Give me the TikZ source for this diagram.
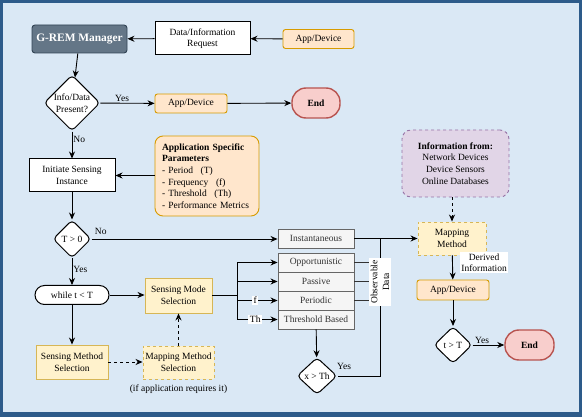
\documentclass[tikz,border=0pt]{standalone}
\usepackage{fontspec}
\setmainfont{Liberation Serif}
\usetikzlibrary{shapes.geometric,arrows.meta,positioning}
\definecolor{bgblue}{HTML}{DAE8F5}
\definecolor{frameblue}{HTML}{2D5B8A}
\definecolor{slate}{HTML}{647687}
\definecolor{slateb}{HTML}{314354}
\definecolor{orfill}{HTML}{FFE6CC}
\definecolor{ordraw}{HTML}{D79B00}
\definecolor{yefill}{HTML}{FFF2CC}
\definecolor{yedraw}{HTML}{D6B656}
\definecolor{rdfill}{HTML}{F8CECC}
\definecolor{rddraw}{HTML}{B85450}
\definecolor{pufill}{HTML}{E1D5E7}
\definecolor{pudraw}{HTML}{9673A6}
\definecolor{grfill}{HTML}{F5F5F5}
\definecolor{grdraw}{HTML}{666666}
\definecolor{grtext}{HTML}{333333}
\tikzset{
  base/.style={font=\fontsize{9.5}{11.6}\selectfont, align=center, inner sep=1pt, line width=0.9pt},
  appbox/.style={base, draw=ordraw, fill=orfill, rounded corners=2.5pt, minimum width=71pt, minimum height=19pt},
  plainbox/.style={base, draw=black, fill=white, line width=1pt},
  yebox/.style={base, draw=yedraw, fill=yefill},
  endbox/.style={base, draw=rddraw, fill=rdfill, rounded corners=14pt, line width=1.4pt, font=\fontsize{9.5}{11}\selectfont\bfseries, minimum width=48pt, minimum height=30pt},
  decide/.style={base, draw=black, fill=white, diamond, rounded corners=4pt, inner sep=0pt, line width=1pt},
  modebox/.style={base, draw=grdraw, fill=grfill, text=grtext, minimum width=76pt, minimum height=19pt},
  arr/.style={-{Stealth[length=7pt,width=6pt]}, line width=0.9pt},
  darr/.style={arr, dashed},
  lbl/.style={font=\fontsize{9.5}{11.6}\selectfont, inner sep=1pt},
  wlbl/.style={lbl, fill=white, align=center, inner sep=1.5pt},
}
\begin{document}
\begin{tikzpicture}[x=1pt,y=-1pt]
\useasboundingbox (0,0) rectangle (582,417);
\fill[frameblue] (0,0) rectangle (582,417);
\fill[bgblue] (3,3) rectangle (579,411.5);

% top row
\node[base, draw=slateb, fill=slate, text=white, rounded corners=3pt, minimum width=95pt, minimum height=28pt, font=\fontsize{11.4}{13}\selectfont\bfseries] (grem) at (79.5,39) {G-REM Manager};
\node[plainbox, minimum width=95pt, minimum height=33pt] (req) at (202.5,38.5) {Data/Information\\Request};
\node[appbox] (app1) at (318.5,39) {App/Device};

% info present diamond
\node[decide, minimum width=56pt, minimum height=56pt] (info) at (72,103) {Info/Data\\Present?};
\node[appbox, minimum width=72pt] (app2) at (191,103.5) {App/Device};
\node[endbox] (end1) at (316,103) {End};

% initiate
\node[plainbox, minimum width=86pt, minimum height=33pt] (init) at (72,175.5) {Initiate Sensing\\Instance};
\node[base, draw=ordraw, fill=orfill, rounded corners=8pt, minimum width=104pt, minimum height=80pt, align=left, text width=90pt] (params) at (207,176)
  {\textbf{Application Specific}\\\textbf{Parameters}\\- Period\hspace{0.8em}(T)\\- Frequency\hspace{0.8em}(f)\\- Threshold\hspace{0.8em}(Th)\\- Performance Metrics};

% T > 0
\node[decide, minimum width=38pt, minimum height=38pt] (tg0) at (72,239) {T {>} 0};

% while
\node[base, draw=black, fill=white, rounded corners=9.5pt, line width=1pt, minimum width=74pt, minimum height=19pt] (while) at (72,295) {while t {<} T};

% sensing mode
\node[yebox, minimum width=67pt, minimum height=35pt] (smode) at (178.5,295.5) {Sensing Mode\\Selection};
\node[yebox, minimum width=72pt, minimum height=34pt] (smeth) at (72,362) {Sensing Method\\Selection};
\node[yebox, dashed, minimum width=71pt, minimum height=33pt] (mmeth) at (178.5,362.5) {Mapping Method\\Selection};
\node[lbl] (ifapp) at (178.5,389) {(if application requires it)};

% mode boxes
\node[modebox] (inst) at (316,238.5) {Instantaneous};
\node[modebox] (opp) at (316,262.5) {Opportunistic};
\node[modebox] (pas) at (316,281.5) {Passive};
\node[modebox] (per) at (316,300.5) {Periodic};
\node[modebox] (thr) at (316,319.5) {Threshold Based};

% x > Th
\node[decide, minimum width=40pt, minimum height=37pt] (xth) at (317,376) {x {>} Th};

% right column
\node[base, draw=pudraw, fill=pufill, dashed, rounded corners=9pt, minimum width=107pt, minimum height=67pt] (infofrom) at (455.5,163.5)
  {\textbf{Information from:}\\Network Devices\\Device Sensors\\Online Databases};
\node[yebox, dashed, minimum width=68pt, minimum height=33pt] (map) at (452,238.5) {Mapping\\Method};
\node[appbox, minimum width=72pt, minimum height=20pt] (app3) at (453,290) {App/Device};
\node[decide, minimum width=38pt, minimum height=37pt] (tgT) at (453,345) {t {>} T};
\node[endbox, minimum width=49pt] (end2) at (529.5,345) {End};

% connectors top
\draw[arr] (app1) -- (req);
\draw[arr] (req) -- (grem);
\draw[arr] (grem) -- (info);
\draw[arr] (info) -- node[lbl, above, pos=0.4] {Yes} (app2);
\draw[arr] (app2) -- (end1);
\draw[arr] (info) -- node[lbl, right, pos=0.3] {No} (init);
\draw[arr] (params.west |- init.east) -- (init.east);
\draw[arr] (init) -- (tg0);
\draw[arr] (tg0.east) -- node[lbl, above=3pt, pos=0.05] {No} (inst.west |- tg0.east);
\draw[arr] (tg0) -- node[lbl, right, pos=0.4] {Yes} (while);
\draw[arr] (while) -- (smode.west |- while.east);
\draw[arr] (while) -- (smeth);
\draw[darr] (smeth) -- (mmeth.west |- smeth.east);
\draw[darr] (mmeth) -- (smode);

% branching
\coordinate (jn) at (237,295.5);
\draw[line width=0.9pt] (smode.east) -- (jn);
\draw[line width=0.9pt] (jn |- opp.west) -- (jn |- thr.west);
\draw[arr] (jn |- opp.west) -- (opp.west);
\draw[arr] (jn |- pas.west) -- (pas.west);
\draw[arr] (jn |- per.west) -- node[wlbl, pos=0.45] {f} (per.west);
\draw[arr] (jn |- thr.west) -- node[wlbl, pos=0.45] {Th} (thr.west);
\draw[arr] (thr) -- (xth);

% observable data
\coordinate (vx) at (380,238.5);
\draw[arr] (inst.east) -- (map.west);
\draw[line width=0.9pt] (vx) -- (380,376) -- (xth.east);
\draw[line width=0.9pt, draw=grtext] (opp.east) -- (380,262.5);
\draw[line width=0.9pt, draw=grtext] (pas.east) -- (380,281.5);
\draw[line width=0.9pt, draw=grtext] (per.east) -- (380,300.5);
\node[lbl, fill=white, rotate=90, align=center, inner sep=1.5pt, minimum width=48pt] (obs) at (380,282) {Observable\\Data};
\node[lbl, above right] at (336,371) {Yes};

% right column connectors
\draw[darr] (infofrom.south -| map.north) -- (map.north);
\draw[arr] (map) -- node[wlbl, right=7pt, pos=0.3] {Derived\\Information} (app3);
\draw[arr] (app3) -- (tgT);
\draw[arr] (tgT) -- node[lbl, above, pos=0.3] {Yes} (end2);
\end{tikzpicture}
\end{document}
